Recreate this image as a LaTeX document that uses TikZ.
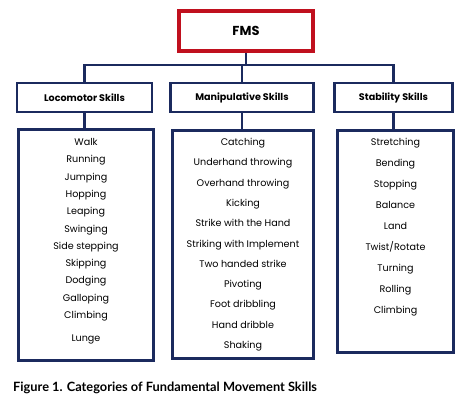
\documentclass[tikz,border=0pt]{standalone}
\usepackage{fontspec}
\setmainfont{Poppins}
\newfontfamily\capfont{Lato}
\usepackage{xcolor}
\usetikzlibrary{positioning}
\definecolor{navy}{HTML}{1B2A5E}
\definecolor{fmsred}{HTML}{C0101E}

\begin{document}
\begin{tikzpicture}[x=1pt,y=-1pt,
  every node/.style={font=\fontsize{9.6}{11}\selectfont},
  catbox/.style={draw=navy,line width=2.1pt,minimum height=29pt,inner sep=0pt,font=\fontsize{9.6}{11}\selectfont\bfseries},
  listbox/.style={draw=navy,line width=2.1pt,inner sep=0pt},
  item/.style={anchor=base,inner sep=0pt},
  link/.style={draw=navy,line width=2.6pt}]
\useasboundingbox (0,0) rectangle (474,404);
\node[draw=fmsred,line width=4pt,minimum width=134pt,minimum height=40pt,
  font=\fontsize{13}{15}\selectfont\bfseries] (fms) at (246,31) {FMS};
\node[catbox,minimum width=135pt] (loco) at (84.5,97.5) {Locomotor Skills};
\node[catbox,minimum width=143pt] (mani) at (242,97.5) {Manipulative Skills};
\node[catbox,minimum width=118pt] (stab) at (393.5,97.5) {Stability Skills};
\node[listbox,minimum width=135pt,minimum height=231pt] (locolist) at (86,245) {};
\node[listbox,minimum width=141pt,minimum height=228pt] (manilist) at (243,244.5) {};
\node[listbox,minimum width=116pt,minimum height=222pt] (stablist) at (395.5,241.5) {};
% tree lines
\coordinate (bus) at (246,65);
\draw[link] (fms.south) -- (bus);
\draw[link] (loco.north) |- (bus) -| (stab.north);
\draw[link] (bus) -| (mani.north);
\draw[link] (loco.south) -- (loco.south |- locolist.north);
\draw[link] (mani.south) -- (mani.south |- manilist.north);
\draw[link] (stab.south) -- (stab.south |- stablist.north);
% skills
\foreach \t [count=\i] in {Walk,Running,Jumping,Hopping,Leaping,Swinging,Side stepping,Skipping,Dodging,Galloping,Climbing}
  \node[item] (loco-\i) at (86,145.5+17.3*\i-17.3) {\t};
\node[item] (loco-12) at (86,341) {Lunge};
\foreach \t [count=\i] in {Catching,Underhand throwing,Overhand throwing,Kicking,Strike with the Hand,Striking with Implement,Two handed strike,Pivoting,Foot dribbling,Hand dribble,Shaking}
  \node[item] (mani-\i) at (243,145.5+20.3*\i-20.3) {\t};
\foreach \t [count=\i] in {Stretching,Bending,Stopping,Balance,Land,Twist/Rotate,Turning,Rolling,Climbing}
  \node[item] (stab-\i) at (395.5,145.5+21*\i-21) {\t};
\node[anchor=base west,inner sep=0pt,font=\fontsize{12.8}{14}\selectfont\capfont\bfseries] (caption) at (13,391.5)
  {Figure 1. Categories of Fundamental Movement Skills};
\end{tikzpicture}
\end{document}
